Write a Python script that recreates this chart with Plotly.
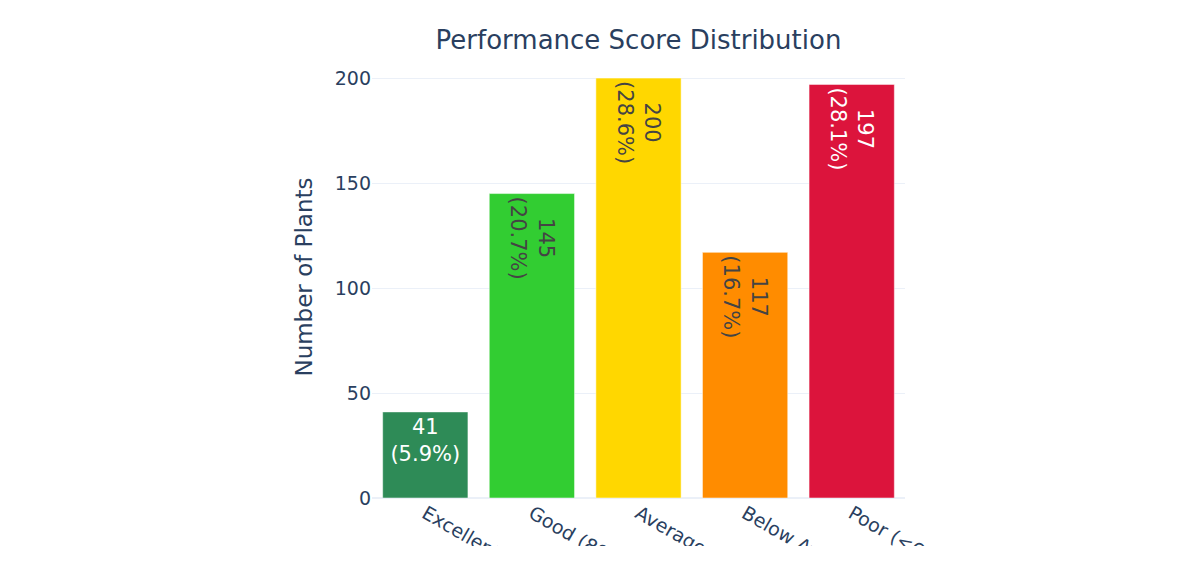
import plotly.graph_objects as go

categories = ["Excellent (90-100)", "Good (80-89)", "Average (70-79)", "Below Average (60-69)", "Poor (<60)"]
counts = [41, 145, 200, 117, 197]
colors = ["#2E8B57", "#32CD32", "#FFD700", "#FF8C00", "#DC143C"]

total = sum(counts)
labels = [f"{c}<br>({c / total * 100:.1f}%)" for c in counts]

FONT = "Verdana, DejaVu Sans, sans-serif"
HEIGHT = 546

fig = go.Figure(
    go.Bar(
        x=categories,
        y=counts,
        marker=dict(color=colors),
        text=labels,
        textposition="inside",
        textfont=dict(size=21, family=FONT),
        showlegend=False,
    )
)

fig.update_layout(
    template="plotly_white",
    width=1200,
    height=HEIGHT,
    margin=dict(l=372, r=295, t=56, b=48),
    font=dict(family=FONT, color="#2a3f5f"),
    title=dict(text="Performance Score Distribution", x=0.5, xref="paper",
               y=1 - 40 / HEIGHT, yref="container", yanchor="middle",
               font=dict(size=26, family=FONT)),
    bargap=0.2,
)
fig.update_xaxes(tickangle=30, tickfont=dict(size=19), automargin=False)
fig.update_yaxes(title=dict(text="Number of Plants", font=dict(size=23)),
                 tickfont=dict(size=19), automargin=False)

fig.write_html("out.html")
